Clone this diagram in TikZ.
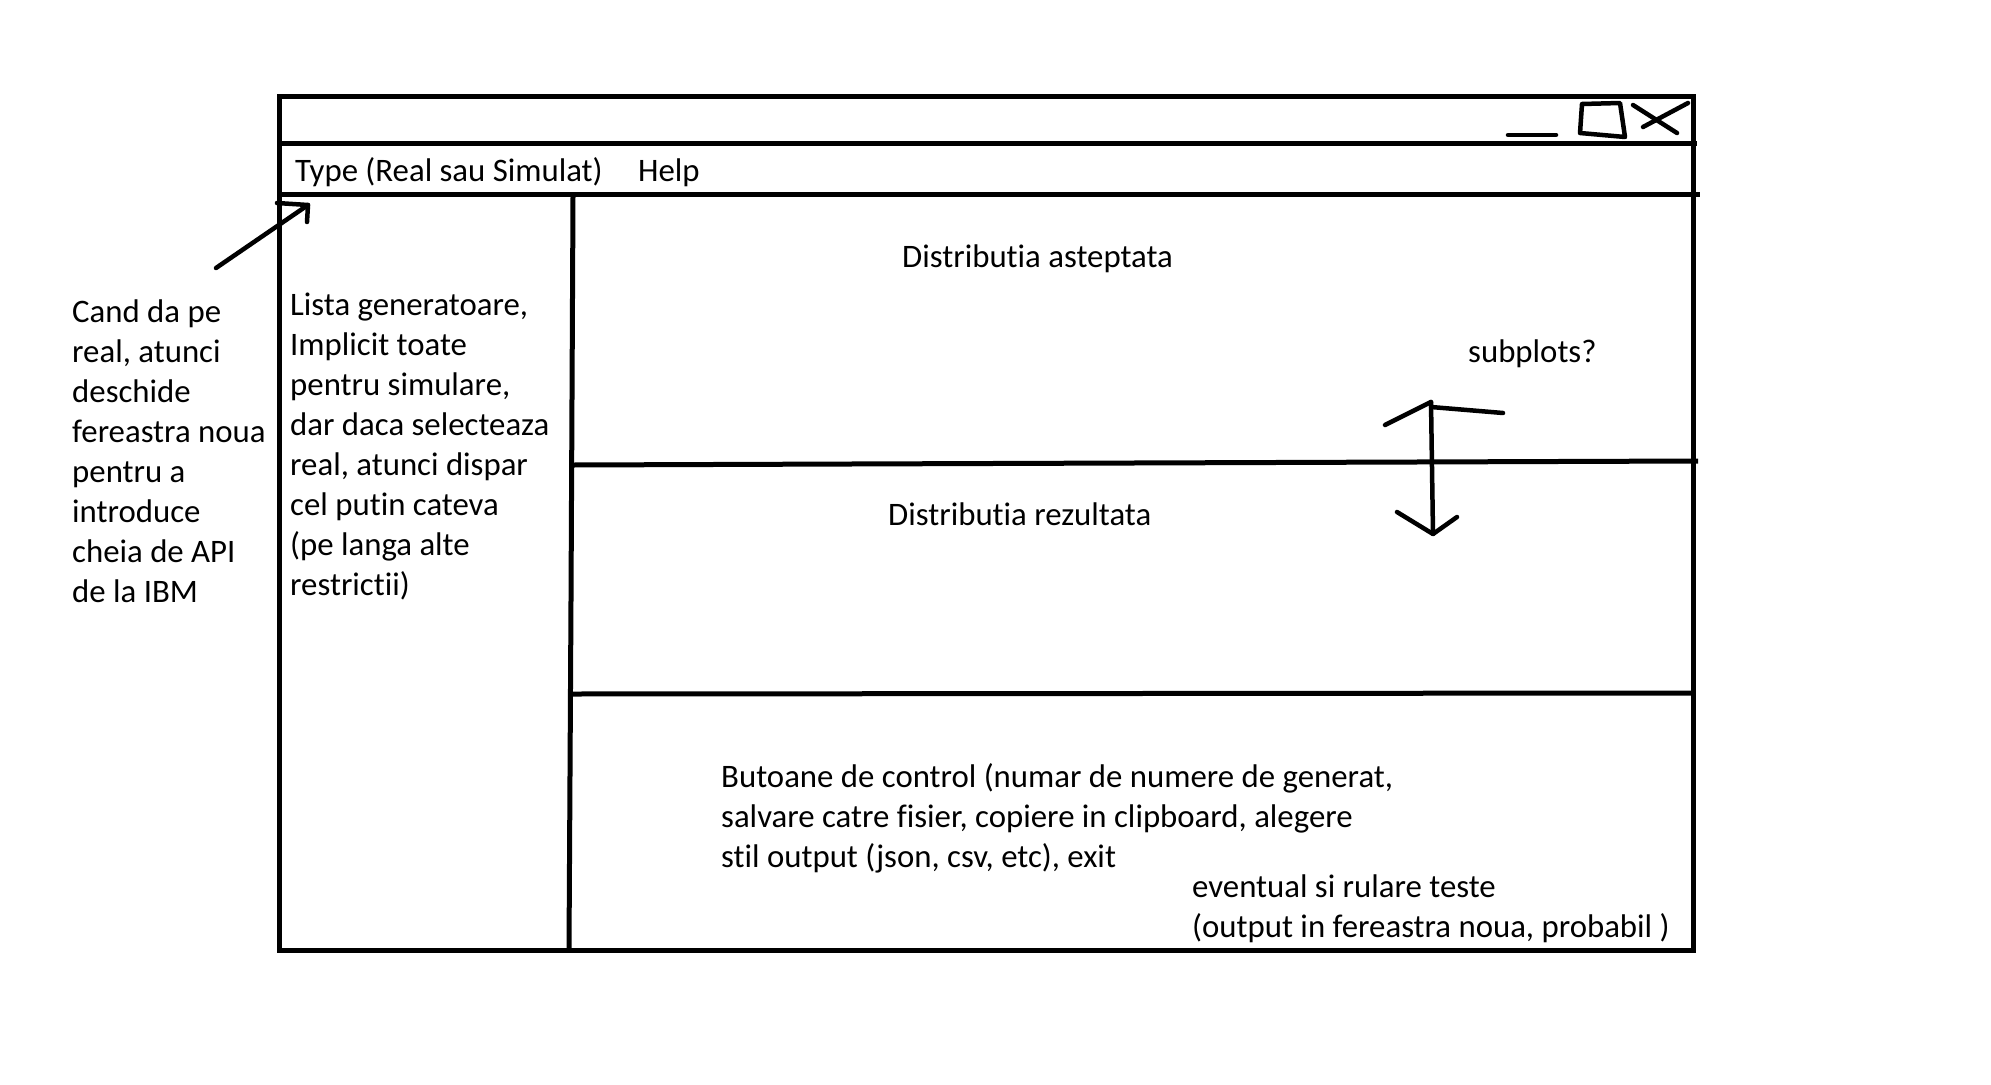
\documentclass[tikz,border=0pt]{standalone}
\usepackage{fontspec}
\setmainfont{Carlito}[Ligatures=NoCommon]
\begin{document}
\begin{tikzpicture}[x=1pt,y=-1pt,
  frame/.style={line width=5pt, line cap=butt},
  sketch/.style={line width=4.5pt, line cap=round, line join=round},
  lbl/.style={anchor=base west, inner sep=0pt, font=\fontsize{32.8}{40}\selectfont, align=left}]
\useasboundingbox (0,0) rectangle (1991,1084);
\fill[white] (0,0) rectangle (1991,1084);
% window frame
\coordinate (wtl) at (279,96);
\coordinate (wbr) at (1693,950);
\draw[frame] (wtl) rectangle (wbr);
\draw[frame] (279,143) -- (1697,143);
\draw[frame] (279,194) -- (1700,194);
\draw[frame] (573,196) -- (571,600) -- (569,950);
\draw[frame] (573,465) -- (850,464) -- (1698,461);
\draw[frame] (571,694) -- (1693,693);
% window controls
\draw[sketch] (1508,135) -- (1556,135);
\draw[sketch] (1582,104) -- (1620,103) -- (1625,137) -- (1580,133) -- cycle;
\draw[sketch] (1633,105) -- (1677,133);
\draw[sketch] (1688,103) -- (1643,127);
% texts (base anchor of a multi-line node = baseline of its last line)
\node[lbl] (type) at (295,181) {Type (Real sau Simulat)};
\node[lbl] (help) at (638,181) {Help};
\node[lbl] (note) at (72,602) {Cand da pe\\real, atunci\\deschide\\fereastra noua\\pentru a\\introduce\\cheia de API\\de la IBM};
\node[lbl] (lista) at (290,595) {Lista generatoare,\\Implicit toate\\pentru simulare,\\dar daca selecteaza\\real, atunci dispar\\cel putin cateva\\(pe langa alte\\restrictii)};
\node[lbl] (dasept) at (902,267) {Distributia asteptata};
\node[lbl] (subpl) at (1468,362) {subplots?};
\node[lbl] (drez) at (888,525) {Distributia rezultata};
\node[lbl] (buttons) at (721,867) {Butoane de control (numar de numere de generat,\\salvare catre fisier, copiere in clipboard, alegere\\stil output (json, csv, etc), exit};
\node[lbl] (teste) at (1192,937) {eventual si rulare teste\\(output in fereastra noua, probabil )};
% arrow from note to menu
\coordinate (atail) at (216,268);
\coordinate (atip) at (308,205);
\draw[sketch] (atail) -- (atip);
\draw[sketch] (277,203) -- (atip) -- (307,222);
% double arrow
\coordinate (dtop) at (1431,402);
\coordinate (dbot) at (1433,534);
\draw[sketch] (dtop) -- (dbot);
\draw[sketch] (1385,425) -- (dtop);
\draw[sketch] (1431,407) -- (1503,413);
\draw[sketch] (1397,512) -- (dbot) -- (1457,517);
\end{tikzpicture}
\end{document}
